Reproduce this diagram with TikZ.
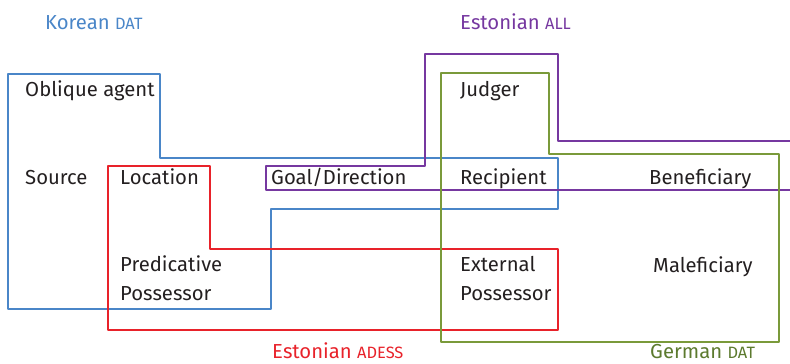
\documentclass[tikz,border=0pt]{standalone}
\usepackage{fontspec}
\setmainfont{Fira Sans}
\usepackage{xcolor}
\definecolor{korblue}{HTML}{4A86C8}
\definecolor{estred}{HTML}{E8222A}
\definecolor{estpurple}{HTML}{7638A0}
\definecolor{gergreen}{HTML}{7A9A3A}
\definecolor{gergreentxt}{HTML}{5C7A2E}
\definecolor{labelink}{HTML}{231F20}
\newcommand{\glosscase}[1]{{\fontsize{14}{16}\selectfont #1}}

\begin{document}
\begin{tikzpicture}[x=0.03cm,y=-0.03cm,line cap=round,line join=round,
  font=\fontsize{17.3}{24.5}\selectfont,
  role/.style={anchor=base west,inner sep=0pt,text=labelink,align=left},
  langlabel/.style={anchor=base west,inner sep=0pt}]
\useasboundingbox (0,0) rectangle (790,363);
% Korean DAT
\draw[korblue,line width=1.1pt] (8,74) -- (160,74) -- (160,158) -- (558,158) -- (558,209) -- (271,209) -- (271,309) -- (8,309) -- cycle;
% Estonian ADESS
\draw[estred,line width=1.1pt] (108,166) -- (210,166) -- (210,249) -- (558,249) -- (558,330) -- (108,330) -- cycle;
% Estonian ALL
\draw[estpurple,line width=1.1pt] (790,141) -- (558,141) -- (558,54) -- (425,54) -- (425,166) -- (266,166) -- (266,190) -- (790,190);
% German DAT
\draw[gergreen,line width=1.1pt] (441,73) -- (549,73) -- (549,154) -- (779,154) -- (779,342) -- (441,342) -- cycle;
% roles
\node[role] (oblique) at (25,96.5) {Oblique agent};
\node[role] (source) at (25,184) {Source};
\node[role] (location) at (120,184) {Location};
\node[role] (goal) at (271,184) {Goal/Direction};
\node[role] (judger) at (460,96.5) {Judger};
\node[role] (recipient) at (460,184) {Recipient};
\node[role] (beneficiary) at (649,184) {Beneficiary};
\node[role] (predposs) at (120,300.5) {Predicative\\Possessor};
\node[role] (extposs) at (460,300.5) {External\\Possessor};
\node[role] (maleficiary) at (653,272) {Maleficiary};
% language labels
\node[langlabel,text=korblue] (korean) at (45,29) {Korean \glosscase{DAT}};
\node[langlabel,text=estpurple] (estall) at (460,29) {Estonian \glosscase{ALL}};
\node[langlabel,text=estred] (estadess) at (272,358) {Estonian \glosscase{ADESS}};
\node[langlabel,text=gergreentxt] (german) at (650,358) {German \glosscase{DAT}};
\end{tikzpicture}
\end{document}
